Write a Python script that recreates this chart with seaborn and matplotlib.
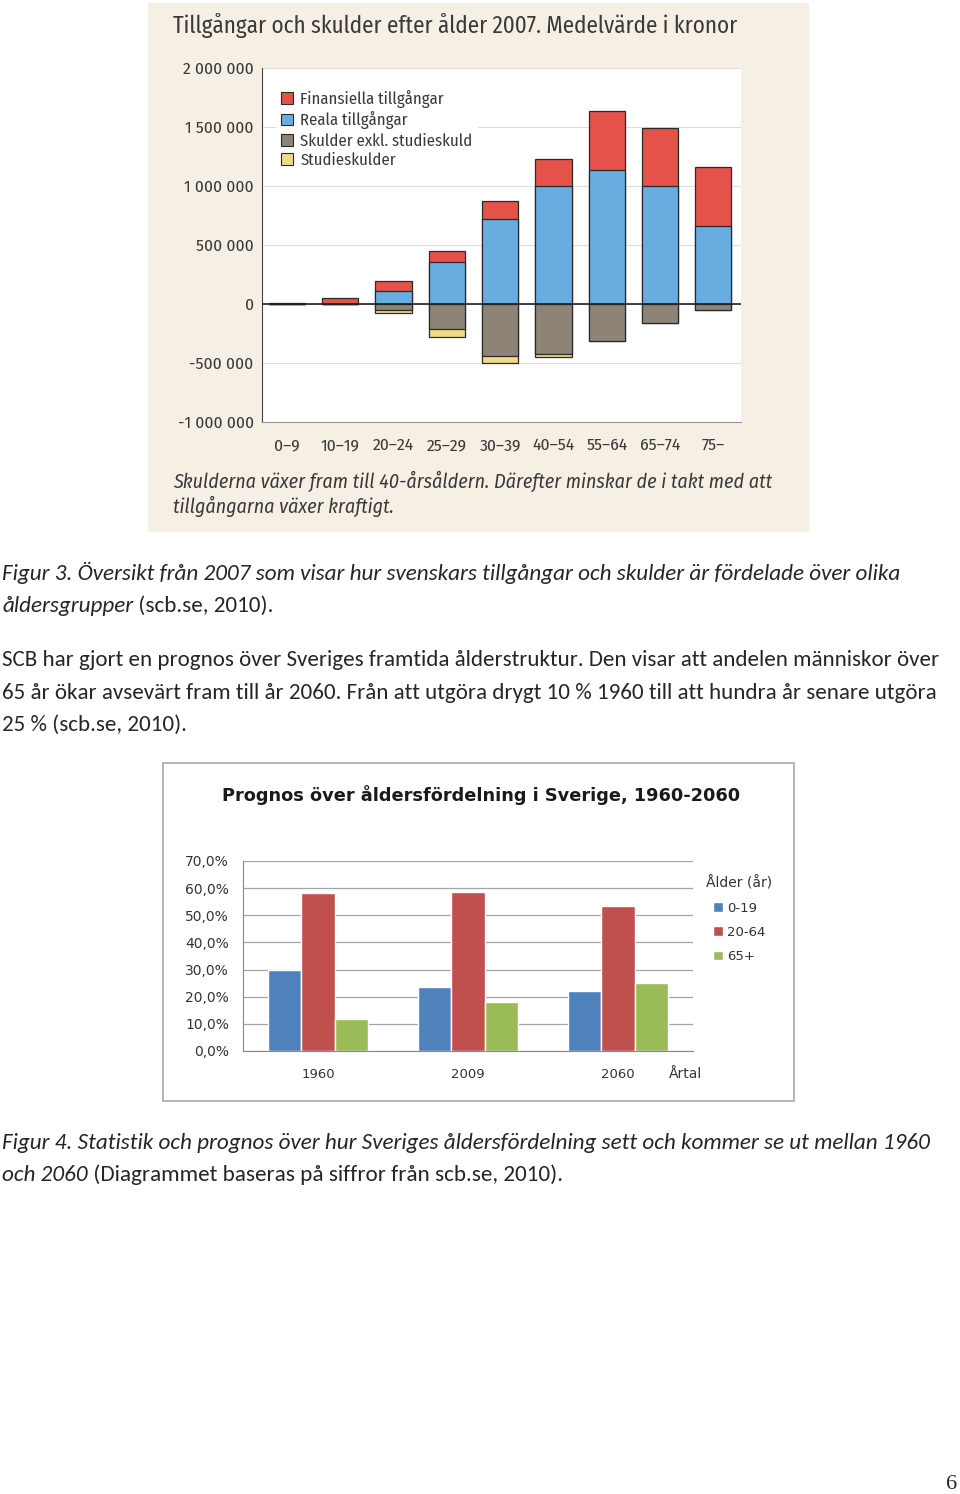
import matplotlib
matplotlib.use("Agg")
import matplotlib.pyplot as plt
from matplotlib.patches import Patch, Rectangle
from matplotlib import font_manager
import seaborn as sns
import pandas as pd
import numpy as np

# Figur 3: tillgångar och skulder efter ålder 2007 (kronor)
ages = ["0–9", "10–19", "20–24", "25–29", "30–39", "40–54", "55–64", "65–74", "75–"]
reala = [0, 0, 107000, 353000, 722000, 1000000, 1133000, 1000000, 660000]
finansiella = [12000, 48000, 85000, 99000, 153000, 232000, 502000, 491000, 498000]
skulder = [0, 0, -48000, -209000, -441000, -421000, -314000, -161000, -48000]
studieskulder = [0, 0, -31000, -71000, -56000, -28000, 0, 0, 0]
money_ticks = [-1000000, -500000, 0, 500000, 1000000, 1500000, 2000000]
money_labels = ["-1 000 000", "-500 000", "0", "500 000", "1 000 000", "1 500 000", "2 000 000"]
series1 = ["Finansiella tillgångar", "Reala tillgångar", "Skulder exkl. studieskuld", "Studieskulder"]

# Figur 4: åldersfördelning (procent)
years = ["1960", "2009", "2060"]
age_groups = ["0-19", "20-64", "65+"]
share_0_19 = [30.0, 23.5, 22.0]
share_20_64 = [58.3, 58.7, 53.4]
share_65 = [11.8, 18.0, 25.1]
pct_ticks = [0, 10, 20, 30, 40, 50, 60, 70]

W, H = 960, 1494
sns.set_style("white")

installed = {f.name for f in font_manager.fontManager.ttflist}


def pick(*names):
    for n in names:
        if n in installed:
            return n
    return "DejaVu Sans"


narrow = pick("Fira Sans Condensed", "Roboto Condensed", "Liberation Sans")
body = pick("Carlito", "Lato")
plt.rcParams["font.family"] = ["DejaVu Sans"]

fig = plt.figure(figsize=(W / 100, H / 100), dpi=100, facecolor="white")


def rect(x0, y0, x1, y1):
    return [x0 / W, 1 - y1 / H, (x1 - x0) / W, (y1 - y0) / H]


def fx(x):
    return x / W


def fy(y):
    return 1 - y / H


def fit(t, width):
    r = fig.canvas.get_renderer()
    w = t.get_window_extent(r).width
    t.set_fontsize(t.get_fontsize() * width / w)
    return t


def after(t, s, **kw):
    r = fig.canvas.get_renderer()
    bb = t.get_window_extent(r)
    return fig.text(bb.x1 / W, t.get_position()[1], s, **kw)


# ---------------- chart 1 ----------------
beige = "#f6efe4"
ink = "#3a3a3a"
fig.patches.append(Rectangle((fx(148), fy(531)), (808 - 148) / W, (531 - 3) / H,
                             transform=fig.transFigure, color=beige, zorder=-1))
red, blue, grey, yellow = "#e5524a", "#68addf", "#8d8377", "#efd98a"
edge = "#2a2a2a"

ax1 = fig.add_axes(rect(262, 68, 741, 422))
ax1.set_facecolor("white")
pos_total = np.array(reala) + np.array(finansiella)
neg_total = np.array(skulder) + np.array(studieskulder)
kw = dict(order=ages, width=0.68, saturation=1, edgecolor=edge, linewidth=0.9, ax=ax1)
sns.barplot(x=ages, y=pos_total, color=red, **kw)
sns.barplot(x=ages, y=reala, color=blue, **kw)
sns.barplot(x=ages, y=neg_total, color=yellow, **kw)
sns.barplot(x=ages, y=skulder, color=grey, **kw)
ax1.axhline(0, color="#222222", lw=1.2, zorder=5)
ax1.set_ylim(-1000000, 2000000)
ax1.set_xlim(-0.47, 8.52)
ax1.set_yticks(money_ticks)
ax1.set_yticklabels(money_labels, family=narrow, fontsize=12.5, color=ink)
ax1.set_xticks(range(len(ages)))
ax1.set_xticklabels(ages, family=narrow, fontsize=12.5, color=ink)
ax1.tick_params(axis="y", length=0, pad=6)
ax1.tick_params(axis="x", length=0, pad=11)
ax1.yaxis.grid(True, color="#dedede", lw=0.8)
ax1.set_axisbelow(True)
ax1.set_xlabel("")
ax1.set_ylabel("")
for s in ["top", "right"]:
    ax1.spines[s].set_visible(False)
ax1.spines["left"].set_color("#444444")
ax1.spines["bottom"].set_color("#999999")
handles = [Patch(facecolor=c, edgecolor=edge, linewidth=0.8) for c in [red, blue, grey, yellow]]
leg1 = ax1.legend(handles, series1, loc="upper left", bbox_to_anchor=(fx(277), fy(86)),
                  bbox_transform=fig.transFigure, frameon=True, facecolor="white", edgecolor="white",
                  framealpha=1, prop={"family": narrow, "size": 12}, handlelength=0.7,
                  handleheight=0.7, handletextpad=0.45, labelspacing=0.2, borderpad=0.25,
                  borderaxespad=0)
for t in leg1.get_texts():
    t.set_color(ink)

t = fig.text(fx(173), fy(26), "Tillgångar och skulder efter ålder 2007. Medelvärde i kronor",
             family=narrow, fontsize=16, color=ink, va="center")
fit(t, 565)
t = fig.text(fx(173), fy(481), "Skulderna växer fram till 40-årsåldern. Därefter minskar de i takt med att",
             family=narrow, style="italic", fontsize=14, color=ink, va="center")
fit(t, 600)
fig.text(fx(173), fy(506), "tillgångarna växer kraftigt.", family=narrow, style="italic",
         fontsize=t.get_fontsize(), color=ink, va="center")

# ---------------- body text ----------------
c1 = fig.text(fx(2), fy(580), "Figur 3. Översikt från 2007 som visar hur svenskars tillgångar och skulder är fördelade över olika",
              family=body, style="italic", fontsize=14, va="baseline")
fit(c1, 900)
c2 = fig.text(fx(2), fy(612), "åldersgrupper", family=body, style="italic", fontsize=c1.get_fontsize(), va="baseline")
after(c2, " (scb.se, 2010).", family=body, fontsize=c1.get_fontsize(), va="baseline")
p1 = fig.text(fx(2), fy(666), "SCB har gjort en prognos över Sveriges framtida ålderstruktur. Den visar att andelen människor över",
              family=body, fontsize=14, va="baseline")
fit(p1, 941)
p2 = fig.text(fx(2), fy(699), "65 år ökar avsevärt fram till år 2060. Från att utgöra drygt 10 % 1960 till att hundra år senare utgöra",
              family=body, fontsize=14, va="baseline")
fit(p2, 938)
fig.text(fx(2), fy(731), "25 % (scb.se, 2010).", family=body, fontsize=p1.get_fontsize(), va="baseline")

d1 = fig.text(fx(2), fy(1149), "Figur 4. Statistik och prognos över hur Sveriges åldersfördelning sett och kommer se ut mellan 1960",
              family=body, style="italic", fontsize=14, va="baseline")
fit(d1, 931)
d2 = fig.text(fx(2), fy(1181), "och 2060", family=body, style="italic", fontsize=d1.get_fontsize(), va="baseline")
after(d2, " (Diagrammet baseras på siffror från scb.se, 2010).", family=body,
      fontsize=d1.get_fontsize(), va="baseline")

fig.text(fx(957), fy(1489), "6", family="Liberation Serif", fontsize=16, ha="right", va="baseline")

# ---------------- chart 2 ----------------
fig.patches.append(Rectangle((fx(163), fy(1101)), (794 - 163) / W, (1101 - 763) / H,
                             transform=fig.transFigure, fill=False, edgecolor="#a8a8a8", lw=1.2))
ax2 = fig.add_axes(rect(243, 861, 693, 1051))
df = pd.DataFrame({
    "year": years * 3,
    "group": np.repeat(age_groups, len(years)),
    "share": share_0_19 + share_20_64 + share_65,
})
sns.barplot(data=df, x="year", y="share", hue="group", order=years, hue_order=age_groups,
            palette=["#4f81bd", "#c0504d", "#9bbb59"], width=0.67, saturation=1, ax=ax2)
ax2.set_ylim(0, 70)
ax2.set_xlim(-0.5, 2.5)
ax2.set_yticks(pct_ticks)
ax2.set_yticklabels([f"{v:.1f}%".replace(".", ",") for v in pct_ticks], fontsize=10, color="#333333")
ax2.set_xticks(range(len(years)))
ax2.set_xticklabels(years, fontsize=9.5, color="#333333")
ax2.set_xticks([-0.5, 0.5, 1.5, 2.5], minor=True)
ax2.tick_params(axis="x", which="major", length=0, pad=12)
ax2.tick_params(axis="x", which="minor", length=5, color="#888888", direction="out")
ax2.tick_params(axis="y", length=4, color="#888888", direction="out", pad=6)
ax2.yaxis.grid(True, color="#a4a4a4", lw=0.9)
ax2.set_axisbelow(True)
ax2.set_xlabel("")
ax2.set_ylabel("")
for s in ["top", "right"]:
    ax2.spines[s].set_visible(False)
ax2.spines["left"].set_color("#888888")
ax2.spines["bottom"].set_color("#888888")
leg2 = ax2.legend(title="Ålder (år)", loc="upper left", bbox_to_anchor=(fx(706), fy(876)),
                  bbox_transform=fig.transFigure, frameon=False, fontsize=9.5, title_fontsize=10,
                  handlelength=0.75, handleheight=0.75, handletextpad=0.35, labelspacing=0.85,
                  borderpad=0, borderaxespad=0)
for t in leg2.get_texts():
    t.set_color("#333333")
leg2.get_title().set_color("#333333")
fig.text(fx(669), fy(1074), "Årtal", fontsize=10, color="#333333", va="center")
t = fig.text(fx(481), fy(795), "Prognos över åldersfördelning i Sverige, 1960-2060",
             fontsize=11, weight="bold", color="#1a1a1a", ha="center", va="center")
fit(t, 517)

fig.savefig("out.png", dpi=100, facecolor="white")
